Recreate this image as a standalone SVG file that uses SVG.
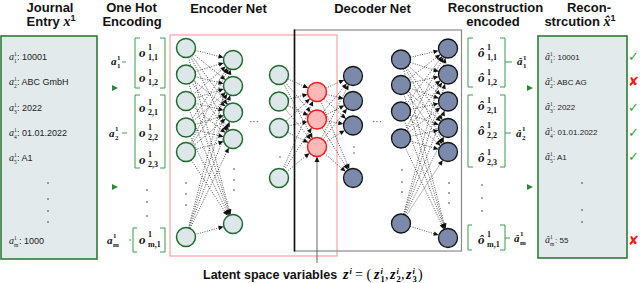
<svg xmlns="http://www.w3.org/2000/svg" width="640" height="283" viewBox="0 0 640 283">
<defs>
<style>
.t{font-family:"Liberation Sans",Arial,sans-serif;font-weight:bold;font-size:13px;fill:#111;text-anchor:middle}
.v{font-family:"Liberation Sans",Arial,sans-serif;font-size:9px;fill:#222}
.v2{font-family:"Liberation Sans",Arial,sans-serif;font-size:8px;fill:#222}
.mi{font-family:"Liberation Serif","Times New Roman",serif;font-style:italic;font-size:10px;fill:#222}
.ms{font-family:"Liberation Serif","Times New Roman",serif;font-size:5.5px;fill:#222}
.mo{font-family:"Liberation Serif","Times New Roman",serif;font-style:italic;font-weight:bold;font-size:13px;fill:#111}
.mos{font-family:"Liberation Serif","Times New Roman",serif;font-weight:bold;font-size:8px;fill:#111}
.ma{font-family:"Liberation Serif","Times New Roman",serif;font-style:italic;font-weight:bold;font-size:11px;fill:#111}
.mas{font-family:"Liberation Serif","Times New Roman",serif;font-weight:bold;font-size:7px;fill:#111}
.box{fill:#e2eaec;stroke:#2f7a3a;stroke-width:1.6}
.br{fill:none;stroke:#3a9a4a;stroke-width:1}
.ge{fill:#dde6e8;stroke:#1f6b2f;stroke-width:1.5}
.re{fill:#ffb8b8;stroke:#ff1a1a;stroke-width:1.5}
.de{fill:#7b8aab;stroke:#151515;stroke-width:1.3}
.c{stroke:#2a2a2a;stroke-width:0.8;stroke-dasharray:1 1.4;marker-end:url(#ah)}
.dot{fill:#333}
.ok{font-family:"DejaVu Sans",sans-serif;font-size:13px;fill:#3aa335}
.no{font-family:"DejaVu Sans",sans-serif;font-size:13px;fill:#ff1a1a;font-weight:bold}
.lbl{font-family:"Liberation Sans",Arial,sans-serif;font-weight:bold;font-size:12.5px;fill:#111}
.lm{font-family:"Liberation Serif","Times New Roman",serif;font-style:italic;font-weight:bold;font-size:14px}
.lp{font-family:"Liberation Serif","Times New Roman",serif;font-size:14px}
.lsc{font-family:"Liberation Serif","Times New Roman",serif;font-weight:bold;font-size:8.5px}
</style>
<marker id="ah" markerUnits="userSpaceOnUse" markerWidth="20" markerHeight="20" refX="14.8" refY="0" orient="auto" overflow="visible"><path d="M0,-2.3 L5,0 L0,2.3 z" fill="#111"/></marker>
<marker id="ah2" markerUnits="userSpaceOnUse" markerWidth="10" markerHeight="10" refX="5" refY="0" orient="auto" overflow="visible"><path d="M0,-2.5 L5,0 L0,2.5 z" fill="#111"/></marker>
</defs>
<rect width="640" height="283" fill="#fff"/>

<!-- titles -->
<text class="t" x="50" y="11.5">Journal</text>
<text class="t" x="51" y="26">Entry <tspan class="lm">x</tspan><tspan font-size="9" dy="-5">1</tspan></text>
<text class="t" x="131.5" y="11.5">One Hot</text>
<text class="t" x="132" y="26">Encoding</text>
<text class="t" x="228.5" y="13">Encoder Net</text>
<text class="t" x="372.5" y="13">Decoder Net</text>
<text class="t" x="495.5" y="11.5" font-size="12.5">Reconstruction</text>
<text class="t" x="493" y="26">encoded</text>
<text class="t" x="589" y="11.5">Recon-</text>
<text class="t" x="580" y="26">strcution <tspan class="lm" font-size="13">x̂</tspan><tspan font-size="9" dy="-5">1</tspan></text>

<!-- Journal entry box -->
<g id="journal">
<rect class="box" x="1" y="36" width="96" height="223"/>
<text class="mi" x="9" y="60">a</text><text class="ms" x="14" y="56">1</text><text class="ms" x="14" y="62.5">1</text><text class="v" x="17" y="60">: 10001</text>
<text class="mi" x="9" y="85">a</text><text class="ms" x="14" y="81">1</text><text class="ms" x="14" y="87.5">2</text><text class="v" x="17" y="85">: ABC GmbH</text>
<text class="mi" x="9" y="111">a</text><text class="ms" x="14" y="107">1</text><text class="ms" x="14" y="113.5">3</text><text class="v" x="17" y="111">: 2022</text>
<text class="mi" x="9" y="136">a</text><text class="ms" x="14" y="132">1</text><text class="ms" x="14" y="138.5">4</text><text class="v" x="17" y="136">: 01.01.2022</text>
<text class="mi" x="9" y="161">a</text><text class="ms" x="14" y="157">1</text><text class="ms" x="14" y="163.5">5</text><text class="v" x="17" y="161">: A1</text>
<circle class="dot" cx="48" cy="183" r="0.8"/><circle class="dot" cx="48" cy="199" r="0.8"/><circle class="dot" cx="48" cy="211" r="0.8"/><circle class="dot" cx="48" cy="222" r="0.8"/>
<text class="mi" x="9" y="244">a</text><text class="ms" x="14" y="240">1</text><text class="ms" x="14" y="246.5">m</text><text class="v" x="19" y="244">: 1000</text>
</g>

<!-- one hot encoding -->
<g id="onehot1">
<path class="br" d="M140,38 H135 V88 H140 M160,38 H165 V88 H160 M122,62 H126"/>
<text class="ma" x="111" y="65">a</text><text class="mas" x="117" y="60">1</text><text class="mas" x="117" y="68">1</text>
<text class="mo" x="139" y="57">o</text><text class="mos" x="148" y="50">1</text><text class="mos" x="148" y="60">1,1</text>
<text class="mo" x="139" y="82">o</text><text class="mos" x="148" y="75">1</text><text class="mos" x="148" y="85">1,2</text>
</g>
<g id="onehot2">
<path class="br" d="M140,95 H135 V168 H140 M160,95 H165 V168 H160 M122,133 H127"/>
<text class="ma" x="109" y="137">a</text><text class="mas" x="115" y="131">1</text><text class="mas" x="115" y="140">2</text>
<text class="mo" x="139" y="112">o</text><text class="mos" x="148" y="105">1</text><text class="mos" x="148" y="115">2,1</text>
<text class="mo" x="139" y="137">o</text><text class="mos" x="148" y="130">1</text><text class="mos" x="148" y="140">2,2</text>
<text class="mo" x="139" y="164">o</text><text class="mos" x="148" y="157">1</text><text class="mos" x="148" y="167">2,3</text>
</g>
<circle class="dot" cx="147" cy="190" r="0.8"/><circle class="dot" cx="147" cy="202" r="0.8"/><circle class="dot" cx="147" cy="216" r="0.8"/>
<g id="onehotm">
<path class="br" d="M137,228 H133 V252 H137 M160,228 H165 V252 H160 M129,240 H131"/>
<text class="ma" x="107" y="244">a</text><text class="mas" x="113" y="238">1</text><text class="mas" x="113" y="247">m</text>
<text class="mo" x="139" y="244">o</text><text class="mos" x="148" y="237">1</text><text class="mos" x="148" y="247">m,1</text>
</g>

<!-- frames -->
<rect x="170" y="35" width="167" height="221" fill="none" stroke="#f4a3a3" stroke-width="1.2"/>
<rect x="294.5" y="30" width="167" height="221" fill="none" stroke="#8a8a8a" stroke-width="1.2"/>
<line x1="294.5" y1="29.5" x2="294.5" y2="251.5" stroke="#111" stroke-width="1.6"/>

<g id="connectors">
<line class="c" x1="186" y1="48" x2="233" y2="60"/><line class="c" x1="186" y1="48" x2="233" y2="86"/><line class="c" x1="186" y1="48" x2="233" y2="112.5"/><line class="c" x1="186" y1="48" x2="233" y2="139"/><line class="c" x1="186" y1="48" x2="233" y2="224"/>
<line class="c" x1="186" y1="74.5" x2="233" y2="60"/><line class="c" x1="186" y1="74.5" x2="233" y2="86"/><line class="c" x1="186" y1="74.5" x2="233" y2="112.5"/><line class="c" x1="186" y1="74.5" x2="233" y2="139"/><line class="c" x1="186" y1="74.5" x2="233" y2="224"/>
<line class="c" x1="186" y1="101" x2="233" y2="60"/><line class="c" x1="186" y1="101" x2="233" y2="86"/><line class="c" x1="186" y1="101" x2="233" y2="112.5"/><line class="c" x1="186" y1="101" x2="233" y2="139"/><line class="c" x1="186" y1="101" x2="233" y2="224"/>
<line class="c" x1="186" y1="127.5" x2="233" y2="60"/><line class="c" x1="186" y1="127.5" x2="233" y2="86"/><line class="c" x1="186" y1="127.5" x2="233" y2="112.5"/><line class="c" x1="186" y1="127.5" x2="233" y2="139"/><line class="c" x1="186" y1="127.5" x2="233" y2="224"/>
<line class="c" x1="186" y1="152" x2="233" y2="60"/><line class="c" x1="186" y1="152" x2="233" y2="86"/><line class="c" x1="186" y1="152" x2="233" y2="112.5"/><line class="c" x1="186" y1="152" x2="233" y2="139"/><line class="c" x1="186" y1="152" x2="233" y2="224"/>
<line class="c" x1="186" y1="237" x2="233" y2="60"/><line class="c" x1="186" y1="237" x2="233" y2="86"/><line class="c" x1="186" y1="237" x2="233" y2="112.5"/><line class="c" x1="186" y1="237" x2="233" y2="139"/><line class="c" x1="186" y1="237" x2="233" y2="224"/>

<line class="c" x1="279" y1="75" x2="317" y2="92"/><line class="c" x1="279" y1="75" x2="317" y2="119.5"/><line class="c" x1="279" y1="75" x2="317" y2="147"/>
<line class="c" x1="279" y1="101.5" x2="317" y2="92"/><line class="c" x1="279" y1="101.5" x2="317" y2="119.5"/><line class="c" x1="279" y1="101.5" x2="317" y2="147"/>
<line class="c" x1="279" y1="128" x2="317" y2="92"/><line class="c" x1="279" y1="128" x2="317" y2="119.5"/><line class="c" x1="279" y1="128" x2="317" y2="147"/>
<line class="c" x1="279" y1="178" x2="317" y2="92"/><line class="c" x1="279" y1="178" x2="317" y2="119.5"/><line class="c" x1="279" y1="178" x2="317" y2="147"/>

<line class="c" x1="317" y1="92" x2="353" y2="76"/><line class="c" x1="317" y1="92" x2="353" y2="101"/><line class="c" x1="317" y1="92" x2="353" y2="125.5"/><line class="c" x1="317" y1="92" x2="353" y2="178"/>
<line class="c" x1="317" y1="119.5" x2="353" y2="76"/><line class="c" x1="317" y1="119.5" x2="353" y2="101"/><line class="c" x1="317" y1="119.5" x2="353" y2="125.5"/><line class="c" x1="317" y1="119.5" x2="353" y2="178"/>
<line class="c" x1="317" y1="147" x2="353" y2="76"/><line class="c" x1="317" y1="147" x2="353" y2="101"/><line class="c" x1="317" y1="147" x2="353" y2="125.5"/><line class="c" x1="317" y1="147" x2="353" y2="178"/>

<line class="c" x1="401" y1="59.5" x2="448" y2="48.5"/><line class="c" x1="401" y1="59.5" x2="448" y2="74.5"/><line class="c" x1="401" y1="59.5" x2="448" y2="101.5"/><line class="c" x1="401" y1="59.5" x2="448" y2="128"/><line class="c" x1="401" y1="59.5" x2="448" y2="152"/><line class="c" x1="401" y1="59.5" x2="448" y2="238"/>
<line class="c" x1="401" y1="85" x2="448" y2="48.5"/><line class="c" x1="401" y1="85" x2="448" y2="74.5"/><line class="c" x1="401" y1="85" x2="448" y2="101.5"/><line class="c" x1="401" y1="85" x2="448" y2="128"/><line class="c" x1="401" y1="85" x2="448" y2="152"/><line class="c" x1="401" y1="85" x2="448" y2="238"/>
<line class="c" x1="401" y1="111.5" x2="448" y2="48.5"/><line class="c" x1="401" y1="111.5" x2="448" y2="74.5"/><line class="c" x1="401" y1="111.5" x2="448" y2="101.5"/><line class="c" x1="401" y1="111.5" x2="448" y2="128"/><line class="c" x1="401" y1="111.5" x2="448" y2="152"/><line class="c" x1="401" y1="111.5" x2="448" y2="238"/>
<line class="c" x1="401" y1="138.5" x2="448" y2="48.5"/><line class="c" x1="401" y1="138.5" x2="448" y2="74.5"/><line class="c" x1="401" y1="138.5" x2="448" y2="101.5"/><line class="c" x1="401" y1="138.5" x2="448" y2="128"/><line class="c" x1="401" y1="138.5" x2="448" y2="152"/><line class="c" x1="401" y1="138.5" x2="448" y2="238"/>
<line class="c" x1="401" y1="223.5" x2="448" y2="48.5"/><line class="c" x1="401" y1="223.5" x2="448" y2="74.5"/><line class="c" x1="401" y1="223.5" x2="448" y2="101.5"/><line class="c" x1="401" y1="223.5" x2="448" y2="128"/><line class="c" x1="401" y1="223.5" x2="448" y2="152"/><line class="c" x1="401" y1="223.5" x2="448" y2="238"/>

<line x1="317" y1="263" x2="317" y2="157" stroke="#555" stroke-width="0.9" marker-end="url(#ah2)"/>
<path d="M112,85 L118,88 L112,91 z M112,184 L118,187 L112,190 z M527,85 L533,88 L527,91 z M527,184 L533,187 L527,190 z" fill="#2a8a35"/>
</g>

<!-- encoder nodes -->
<g id="e1_1"><circle class="ge" cx="186" cy="48" r="9.5"/></g>
<g id="e1_2"><circle class="ge" cx="186" cy="74.5" r="9.5"/></g>
<g id="e1_3"><circle class="ge" cx="186" cy="101" r="9.5"/></g>
<g id="e1_4"><circle class="ge" cx="186" cy="127.5" r="9.5"/></g>
<g id="e1_5"><circle class="ge" cx="186" cy="152" r="9.5"/></g>
<g id="e1_m"><circle class="ge" cx="186" cy="237" r="9.5"/></g>
<circle class="dot" cx="186" cy="183" r="0.8"/><circle class="dot" cx="186" cy="194" r="0.8"/><circle class="dot" cx="186" cy="205" r="0.8"/>
<g id="e2_1"><circle class="ge" cx="233" cy="60" r="9.5"/></g>
<g id="e2_2"><circle class="ge" cx="233" cy="86" r="9.5"/></g>
<g id="e2_3"><circle class="ge" cx="233" cy="112.5" r="9.5"/></g>
<g id="e2_4"><circle class="ge" cx="233" cy="139" r="9.5"/></g>
<g id="e2_m"><circle class="ge" cx="233" cy="224" r="9.5"/></g>
<circle class="dot" cx="234" cy="169" r="0.8"/><circle class="dot" cx="234" cy="180" r="0.8"/><circle class="dot" cx="234" cy="190" r="0.8"/>
<text x="254" y="125" font-family="Liberation Sans,Arial,sans-serif" font-size="10" fill="#444" text-anchor="middle">···</text>
<g id="e3_1"><circle class="ge" cx="279" cy="75" r="9.5"/></g>
<g id="e3_2"><circle class="ge" cx="279" cy="101.5" r="9.5"/></g>
<g id="e3_3"><circle class="ge" cx="279" cy="128" r="9.5"/></g>
<g id="e3_m"><circle class="ge" cx="279" cy="178" r="9.5"/></g>
<circle class="dot" cx="280" cy="157" r="0.7"/>

<!-- latent nodes -->
<g id="z1"><circle class="re" cx="317" cy="92" r="9.5"/></g>
<g id="z2"><circle class="re" cx="317" cy="119.5" r="9.5"/></g>
<g id="z3"><circle class="re" cx="317" cy="147" r="9.5"/></g>

<!-- decoder nodes -->
<g id="d1_1"><circle class="de" cx="353" cy="76" r="9.5"/></g>
<g id="d1_2"><circle class="de" cx="353" cy="101" r="9.5"/></g>
<g id="d1_3"><circle class="de" cx="353" cy="125.5" r="9.5"/></g>
<g id="d1_m"><circle class="de" cx="353" cy="178" r="9.5"/></g>
<circle class="dot" cx="354" cy="147" r="0.7"/><circle class="dot" cx="354" cy="153" r="0.7"/>
<text x="377" y="125" font-family="Liberation Sans,Arial,sans-serif" font-size="10" fill="#444" text-anchor="middle">···</text>
<g id="d2_1"><circle class="de" cx="401" cy="59.5" r="9.5"/></g>
<g id="d2_2"><circle class="de" cx="401" cy="85" r="9.5"/></g>
<g id="d2_3"><circle class="de" cx="401" cy="111.5" r="9.5"/></g>
<g id="d2_4"><circle class="de" cx="401" cy="138.5" r="9.5"/></g>
<g id="d2_m"><circle class="de" cx="401" cy="223.5" r="9.5"/></g>
<circle class="dot" cx="402" cy="170" r="0.8"/><circle class="dot" cx="402" cy="182" r="0.8"/><circle class="dot" cx="402" cy="192" r="0.8"/>
<g id="d3_1"><circle class="de" cx="448" cy="48.5" r="9.5"/></g>
<g id="d3_2"><circle class="de" cx="448" cy="74.5" r="9.5"/></g>
<g id="d3_3"><circle class="de" cx="448" cy="101.5" r="9.5"/></g>
<g id="d3_4"><circle class="de" cx="448" cy="128" r="9.5"/></g>
<g id="d3_5"><circle class="de" cx="448" cy="152" r="9.5"/></g>
<g id="d3_m"><circle class="de" cx="448" cy="238" r="9.5"/></g>
<circle class="dot" cx="449" cy="183" r="0.8"/><circle class="dot" cx="449" cy="193" r="0.8"/><circle class="dot" cx="449" cy="203" r="0.8"/>

<!-- reconstruction encoded -->
<g id="rec1">
<path class="br" d="M473,38 H468 V87 H473 M500,38 H505 V87 H500 M505,62 H512"/>
<text class="mo" x="478" y="57">ô</text><text class="mos" x="487" y="50">1</text><text class="mos" x="487" y="60">1,1</text>
<text class="mo" x="478" y="82">ô</text><text class="mos" x="487" y="75">1</text><text class="mos" x="487" y="85">1,2</text>
<text class="ma" x="517" y="65">â</text><text class="mas" x="523" y="60">1</text><text class="mas" x="523" y="68">1</text>
</g>
<g id="rec2">
<path class="br" d="M473,95 H468 V167 H473 M500,95 H505 V167 H500 M505,133 H511"/>
<text class="mo" x="478" y="110">ô</text><text class="mos" x="487" y="103">1</text><text class="mos" x="487" y="113">2,1</text>
<text class="mo" x="478" y="135">ô</text><text class="mos" x="487" y="128">1</text><text class="mos" x="487" y="138">2,2</text>
<text class="mo" x="478" y="162">ô</text><text class="mos" x="487" y="155">1</text><text class="mos" x="487" y="165">2,3</text>
<text class="ma" x="516" y="137">â</text><text class="mas" x="522" y="131">1</text><text class="mas" x="522" y="140">2</text>
</g>
<circle class="dot" cx="482" cy="185" r="0.8"/><circle class="dot" cx="482" cy="198" r="0.8"/><circle class="dot" cx="482" cy="211" r="0.8"/>
<g id="recm">
<path class="br" d="M472,225 H468 V250 H472 M500,225 H505 V250 H500 M505,238 H510"/>
<text class="mo" x="478" y="244">ô</text><text class="mos" x="487" y="237">1</text><text class="mos" x="487" y="247">m,1</text>
<text class="ma" x="514" y="242">â</text><text class="mas" x="520" y="236">1</text><text class="mas" x="520" y="245">m</text>
</g>

<!-- reconstruction box -->
<g id="recon">
<rect class="box" x="538" y="36" width="89" height="222"/>
<text class="mi" x="545" y="60">â</text><text class="ms" x="550" y="56">1</text><text class="ms" x="550" y="62.5">1</text><text class="v2" x="553" y="60"> : 10001</text>
<text class="mi" x="545" y="85">â</text><text class="ms" x="550" y="81">1</text><text class="ms" x="550" y="87.5">2</text><text class="v2" x="553" y="85">: ABC AG</text>
<text class="mi" x="545" y="110">â</text><text class="ms" x="550" y="106">1</text><text class="ms" x="550" y="112.5">3</text><text class="v2" x="553" y="110"> : 2022</text>
<text class="mi" x="545" y="135">â</text><text class="ms" x="550" y="131">1</text><text class="ms" x="550" y="137.5">4</text><text class="v2" x="553" y="135"> : 01.01.2022</text>
<text class="mi" x="545" y="160">â</text><text class="ms" x="550" y="156">1</text><text class="ms" x="550" y="162.5">5</text><text class="v2" x="553" y="160"> : A1</text>
<circle class="dot" cx="582" cy="183" r="0.8"/><circle class="dot" cx="582" cy="210" r="0.8"/><circle class="dot" cx="582" cy="222" r="0.8"/>
<text class="mi" x="545" y="243">â</text><text class="ms" x="550" y="239">1</text><text class="ms" x="550" y="245.5">m</text><text class="v2" x="555" y="243">: 55</text>
</g>
<text class="ok" x="628" y="61">✓</text>
<text class="no" x="628" y="86">✘</text>
<text class="ok" x="628" y="112">✓</text>
<text class="ok" x="628" y="137">✓</text>
<text class="ok" x="628" y="161">✓</text>
<text class="no" x="628" y="245">✘</text>

<!-- latent label -->
<text class="lbl" x="203" y="279">Latent space variables</text>
<text class="lm" x="343" y="279">z</text><text class="lsc" x="349.5" y="273.5" font-style="italic">i</text>
<text class="lp" x="355" y="279">= (</text>
<text class="lm" x="374" y="279">z</text><text class="lsc" x="380.5" y="273.5" font-style="italic">i</text><text class="lsc" x="380.5" y="282">1</text><text class="lp" x="385" y="279">,</text>
<text class="lm" x="390" y="279">z</text><text class="lsc" x="396.5" y="273.5" font-style="italic">i</text><text class="lsc" x="396.5" y="282">2</text><text class="lp" x="401" y="279">,</text>
<text class="lm" x="406" y="279">z</text><text class="lsc" x="412.5" y="273.5" font-style="italic">i</text><text class="lsc" x="412.5" y="282">3</text><text class="lp" x="418" y="279">)</text>
</svg>
